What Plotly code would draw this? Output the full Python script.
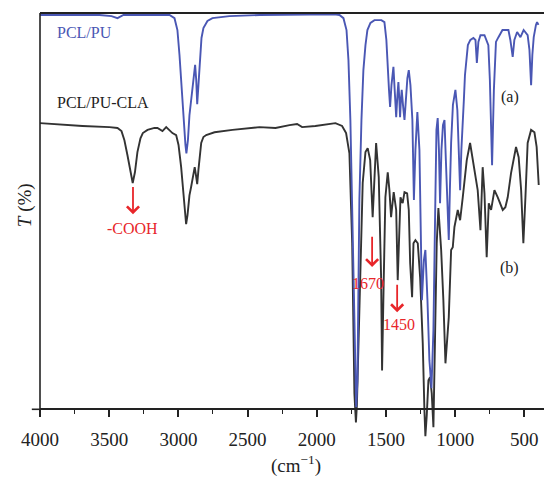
import plotly.graph_objects as go

# PCL/PU (a) — wavenumber (cm-1) and relative transmittance (%)
pu_wn = [4000, 3859, 3570, 3483, 3440, 3397, 3209, 3064, 3028, 3007, 2992, 2978, 2963, 2949, 2942,
         2931, 2920, 2905, 2891, 2879, 2871, 2864, 2855, 2844, 2833, 2819, 2790, 2754, 2631, 2414,
         2125, 1872, 1836, 1807, 1785, 1771, 1757, 1742, 1728, 1715, 1706, 1699, 1692, 1677, 1663,
         1648, 1634, 1612, 1583, 1533, 1511, 1497, 1489, 1478, 1470, 1460, 1446, 1435, 1426, 1417,
         1410, 1403, 1398, 1392, 1386, 1377, 1366, 1356, 1345, 1335, 1323, 1309, 1298, 1287, 1273,
         1258, 1240, 1226, 1215, 1200, 1186, 1171, 1157, 1143, 1135, 1126, 1117, 1109, 1099, 1088,
         1077, 1067, 1056, 1046, 1038, 1029, 1016, 998, 984, 973, 964, 955, 944, 937, 929,
         918, 908, 890, 868, 853, 843, 832, 817, 788, 770, 760, 749, 733, 720, 705,
         687, 658, 615, 601, 584, 572, 552, 528, 505, 476, 463, 451, 442, 432, 416, 408, 398]
pu_t = [99.5, 99.5, 99.5, 99.2, 98.7, 99.5, 99.5, 99.5, 98.7, 95.7, 89.4, 81.8, 73.0, 66.7, 64.6,
        67.9, 74.2, 79.3, 83.1, 86.9, 83.1, 77.0, 81.8, 89.4, 93.7, 96.2, 98.0, 98.7, 99.2, 99.5,
        99.7, 99.7, 99.5, 98.7, 95.7, 88.1, 73.0, 47.7, 17.4, 0.5, 7.3, 27.5, 52.8, 73.0, 85.6,
        91.9, 95.7, 97.5, 98.2, 98.2, 97.7, 93.2, 86.4, 80.6, 76.3, 81.8, 86.4, 80.6, 73.7, 79.3,
        82.6, 78.0, 73.7, 78.0, 80.6, 76.8, 73.0, 78.0, 83.6, 85.6, 81.8, 73.0, 52.8, 65.4, 75.0,
        65.4, 27.5, 37.6, 40.2, 27.5, 12.4, 5.3, 19.9, 52.8, 70.5, 73.5, 65.4, 52.0, 65.4, 71.7,
        73.0, 62.9, 52.8, 42.7, 55.3, 67.2, 76.8, 80.6, 75.5, 65.4, 55.3, 65.4, 75.5, 78.0, 84.3,
        89.4, 91.9, 93.2, 93.7, 93.2, 87.4, 92.7, 94.4, 94.4, 92.7, 91.9, 83.1, 61.6, 80.6, 92.7,
        93.9, 95.7, 95.7, 93.2, 88.9, 93.2, 95.2, 93.9, 95.7, 94.4, 90.7, 81.8, 89.4, 93.9, 97.0, 97.7, 97.0]

# PCL/PU-CLA (b)
cla_wn = [4000, 3931, 3823, 3693, 3498, 3440, 3411, 3390, 3368, 3346, 3330, 3314, 3296, 3274, 3257,
          3223, 3173, 3151, 3129, 3115, 3088, 3064, 3043, 3016, 2999, 2980, 2963, 2944, 2934, 2920,
          2908, 2895, 2882, 2873, 2864, 2855, 2835, 2819, 2799, 2739, 2609, 2414, 2298, 2197, 2142,
          2106, 2010, 1865, 1817, 1788, 1764, 1744, 1728, 1717, 1710, 1692, 1668, 1648, 1632, 1614,
          1596, 1571, 1552, 1535, 1528, 1516, 1504, 1487, 1475, 1463, 1444, 1426, 1415, 1395, 1379,
          1366, 1347, 1335, 1325, 1311, 1301, 1287, 1270, 1253, 1234, 1222, 1215, 1205, 1193, 1181,
          1169, 1157, 1145, 1133, 1121, 1101, 1085, 1070, 1046, 1029, 1017, 1005, 981, 964, 945,
          916, 892, 873, 848, 837, 817, 801, 788, 772, 757, 740, 716, 692, 656, 637,
          620, 596, 560, 541, 523, 507, 492, 476, 451, 427, 411, 396]
cla_t = [72.2, 72.0, 71.7, 71.5, 71.2, 71.0, 70.2, 67.9, 64.1, 59.8, 57.1, 59.8, 64.9, 68.4, 69.7,
         70.5, 71.0, 71.0, 70.5, 70.2, 71.2, 70.5, 69.7, 69.2, 66.7, 61.1, 54.0, 46.7, 49.0, 54.0,
         56.1, 59.1, 61.1, 59.1, 56.8, 60.4, 67.2, 68.7, 69.2, 69.9, 70.5, 71.2, 71.0, 71.7, 72.0,
         71.2, 71.5, 72.2, 71.5, 69.7, 64.6, 41.9, 4.0, -3.3, 1.0, 25.0, 57.1, 64.9, 65.9, 62.9,
         48.5, 67.2, 58.6, 33.3, 9.8, 32.6, 53.5, 59.8, 55.3, 48.5, 54.8, 50.3, 32.6, 53.5, 52.0,
         54.8, 54.5, 50.3, 36.9, 28.3, 41.9, 42.7, 41.9, 33.3, 16.7, -0.3, -6.8, -1.5, 7.3, 8.1,
         4.0, -4.5, 16.7, 41.9, 50.8, 40.2, 27.5, 11.6, 23.2, 40.2, 40.9, 46.0, 50.3, 47.7, 53.5,
         62.9, 67.2, 62.9, 57.1, 55.3, 45.2, 61.1, 54.5, 38.4, 52.0, 50.3, 55.3, 53.5, 50.3, 51.0,
         53.5, 59.6, 66.2, 63.6, 55.3, 41.9, 53.5, 67.2, 70.5, 69.9, 66.2, 56.6]

major_ticks = [4000, 3500, 3000, 2500, 2000, 1500, 1000, 500]
minor_ticks = [3750, 3250, 2750, 2250, 1750, 1250, 750]

SERIF = "Liberation Serif"
RED = "#e8262a"
BLUE = "#4a57b4"
DARK = "#333333"

fig = go.Figure()
fig.add_trace(go.Scatter(x=cla_wn, y=cla_t, mode="lines",
                         line=dict(color=DARK, width=1.9), hoverinfo="skip"))
fig.add_trace(go.Scatter(x=pu_wn, y=pu_t, mode="lines",
                         line=dict(color=BLUE, width=1.9), hoverinfo="skip"))

ymin, ymax = -8, 100
# page body has an 8px default margin, so the figure is 8px smaller and shifted
fig.update_layout(
    width=544, height=469,
    margin=dict(l=32, r=0, t=5, b=36),
    paper_bgcolor="white", plot_bgcolor="white",
    showlegend=False,
    font=dict(family=SERIF, color="#222", size=19),
    xaxis=dict(range=[4000, 300], anchor="free", position=(0 - ymin) / (ymax - ymin),
               showgrid=False, zeroline=False, showline=True, linecolor="#222", linewidth=1.6,
               ticks="outside", ticklen=7, tickwidth=1.6, tickcolor="#222",
               tickvals=major_ticks, ticktext=[str(v) for v in major_ticks],
               tickfont=dict(family=SERIF, size=19, color="#222"),
               ticklabelstandoff=6,
               minor=dict(tickvals=minor_ticks, ticks="outside", ticklen=4, tickwidth=1.4,
                          tickcolor="#222")),
    yaxis=dict(range=[ymin, ymax], showgrid=False, zeroline=False, showline=False,
               showticklabels=False, ticks=""),
)

# frame lines: left axis, top border, small left extension of the x axis
fig.add_shape(type="line", xref="paper", yref="y", x0=0, x1=0, y0=0, y1=ymax,
              line=dict(color="#222", width=1.6))
fig.add_shape(type="line", xref="paper", yref="paper", x0=0, x1=1, y0=1, y1=1,
              line=dict(color="#222", width=2.2))
fig.add_shape(type="line", xref="paper", yref="y", x0=-0.016, x1=0, y0=0, y1=0,
              line=dict(color="#222", width=1.6))

# series labels
fig.add_annotation(x=3895, y=95.2, text="PCL/PU", showarrow=False, xanchor="left",
                   font=dict(family=SERIF, size=16, color=BLUE))
fig.add_annotation(x=3895, y=77.5, text="PCL/PU-CLA", showarrow=False, xanchor="left",
                   font=dict(family=SERIF, size=16, color="#222"))
fig.add_annotation(x=601, y=78.8, text="(a)", showarrow=False,
                   font=dict(family=SERIF, size=16, color="#222"))
fig.add_annotation(x=608, y=35.6, text="(b)", showarrow=False,
                   font=dict(family=SERIF, size=16, color="#222"))

# red arrows and labels
for (wx, ytail, yhead) in [(3328, 56.5, 49.2), (1600, 43.9, 35.9), (1419, 31.8, 24.5)]:
    fig.add_annotation(x=wx, y=yhead, ax=wx, ay=ytail, axref="x", ayref="y",
                       text="", showarrow=True, arrowhead=4, arrowsize=1.3,
                       arrowwidth=1.8, arrowcolor=RED)
for (wx, yv, txt) in [(3328, 45.5, "-COOH"), (1630, 31.8, "1670"), (1406, 21.5, "1450")]:
    fig.add_annotation(x=wx, y=yv, text=txt, showarrow=False,
                       font=dict(family=SERIF, size=16, color=RED))

# axis titles
fig.add_annotation(xref="paper", yref="y", x=-0.0293, y=51.5, text="<i>T</i> (%)",
                   textangle=-90, showarrow=False, xanchor="center", yanchor="middle",
                   font=dict(family=SERIF, size=19, color="#222"))
fig.add_annotation(xref="paper", yref="paper", x=0.5, y=-0.056, text="(cm<sup>−1</sup>)",
                   showarrow=False, xanchor="center", yanchor="middle",
                   font=dict(family=SERIF, size=19, color="#222"))

fig.write_html("out.html")
